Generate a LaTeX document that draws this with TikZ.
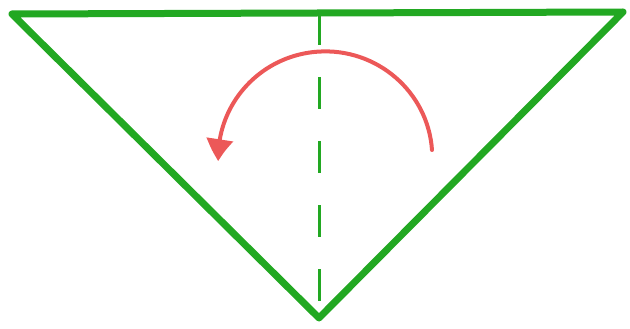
\documentclass[tikz,border=0pt]{standalone}
\usetikzlibrary{arrows.meta,bending}
\definecolor{foldgreen}{RGB}{34,168,34}
\definecolor{turnred}{RGB}{236,88,88}
\tikzset{
  edge/.style={draw=foldgreen, line width=7pt, line join=round, line cap=round},
  foldline/.style={draw=foldgreen, line width=3pt, dash pattern=on 32pt off 32pt},
  turn/.style={draw=turnred, line width=4pt, line cap=round,
    -{Triangle[length=22pt,width=26pt,bend]}}
}
\begin{document}
\begin{tikzpicture}[x=1pt,y=-1pt]
  \useasboundingbox (0,0) rectangle (630,329);
  \coordinate (L) at (12,14);
  \coordinate (R) at (623,12);
  \coordinate (B) at (319,318);
  \coordinate (T) at (319,13);
  \coordinate (S) at (432,150);
  \draw[edge] (L) -- (R) -- (B) -- cycle;
  \draw[foldline] (T) -- (B);
  \draw[turn] (S) arc[start angle=-4, end angle=-182, x radius=107, y radius=106];
\end{tikzpicture}
\end{document}
